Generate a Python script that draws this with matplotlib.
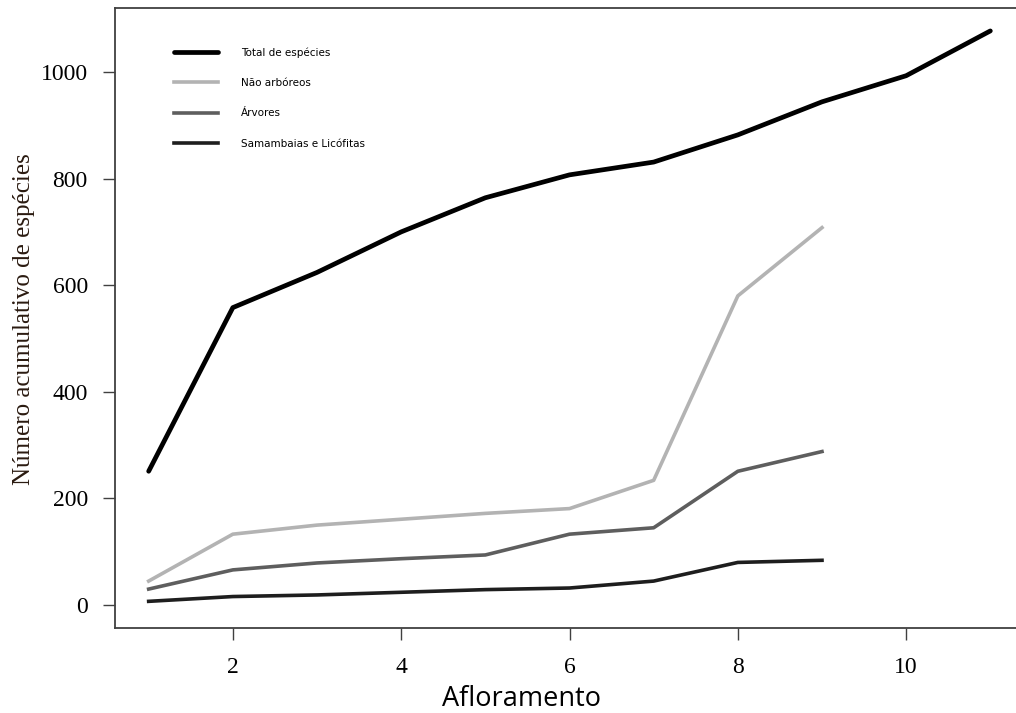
import matplotlib
matplotlib.use("Agg")
import matplotlib.pyplot as plt

x_total = [1, 2, 3, 4, 5, 6, 7, 8, 9, 10, 11]
total = [251, 558, 624, 700, 764, 807, 831, 882, 944, 993, 1077]

x_sub = [1, 2, 3, 4, 5, 6, 7, 8, 9]
nao_arboreos = [45, 133, 150, 161, 172, 181, 234, 580, 708]
arvores = [30, 66, 79, 87, 94, 133, 145, 251, 288]
samambaias = [7, 16, 19, 24, 29, 32, 45, 80, 84]

labels = ["Total de espécies", "Não arbóreos", "Árvores", "Samambaias e Licófitas"]
xticks = [2, 4, 6, 8, 10]
yticks = [0, 200, 400, 600, 800, 1000]

fig = plt.figure(figsize=(10.16, 7.13), dpi=100)
W, H = 1016, 713
left, right, top, bottom = 115, 1024, 8, 628
ax = fig.add_axes([left / W, 1 - bottom / H, (right - left) / W, (bottom - top) / H])

ax.plot(x_total, total, color="#000000", lw=3.4, label=labels[0], solid_capstyle="round")
ax.plot(x_sub, nao_arboreos, color="#b3b3b3", lw=2.6, label=labels[1])
ax.plot(x_sub, arvores, color="#5e5e5e", lw=2.6, label=labels[2])
ax.plot(x_sub, samambaias, color="#1e1e1e", lw=2.6, label=labels[3])

ax.set_xlim(0.6, 11.4)
ax.set_ylim(-43, 1120)
ax.set_xticks(xticks)
ax.set_yticks(yticks)
ax.set_xticklabels([str(v) for v in xticks], family="Liberation Serif", fontsize=17)
ax.set_yticklabels([str(v) for v in yticks], family="Liberation Serif", fontsize=17)
ax.tick_params(axis="both", direction="out", length=8.6, width=1.0, color="#404040")
ax.tick_params(axis="x", pad=12)
ax.tick_params(axis="y", pad=11)
for s in ax.spines.values():
    s.set_color("#404040")
    s.set_linewidth(1.3)

ax.set_xlabel("Afloramento", family="Open Sans", fontsize=19.5)
ax.xaxis.set_label_coords((521 - left) / (right - left), -(699 - bottom) / (bottom - top), transform=ax.transAxes)
ax.xaxis.label.set_va("center")
ax.set_ylabel("Número acumulativo de espécies", family="Liberation Serif", fontsize=18, color="#2a1a10")
ax.yaxis.set_label_coords(-(left - 24) / (right - left), 0.498, transform=ax.transAxes)
ax.yaxis.label.set_va("center")

leg = ax.legend(loc="upper left", bbox_to_anchor=(0.055, 0.952), frameon=False,
                prop={"family": "DejaVu Sans", "size": 7.5}, handlelength=4.2,
                handletextpad=2.2, labelspacing=1.95)

fig.savefig("out.png", dpi=100)
